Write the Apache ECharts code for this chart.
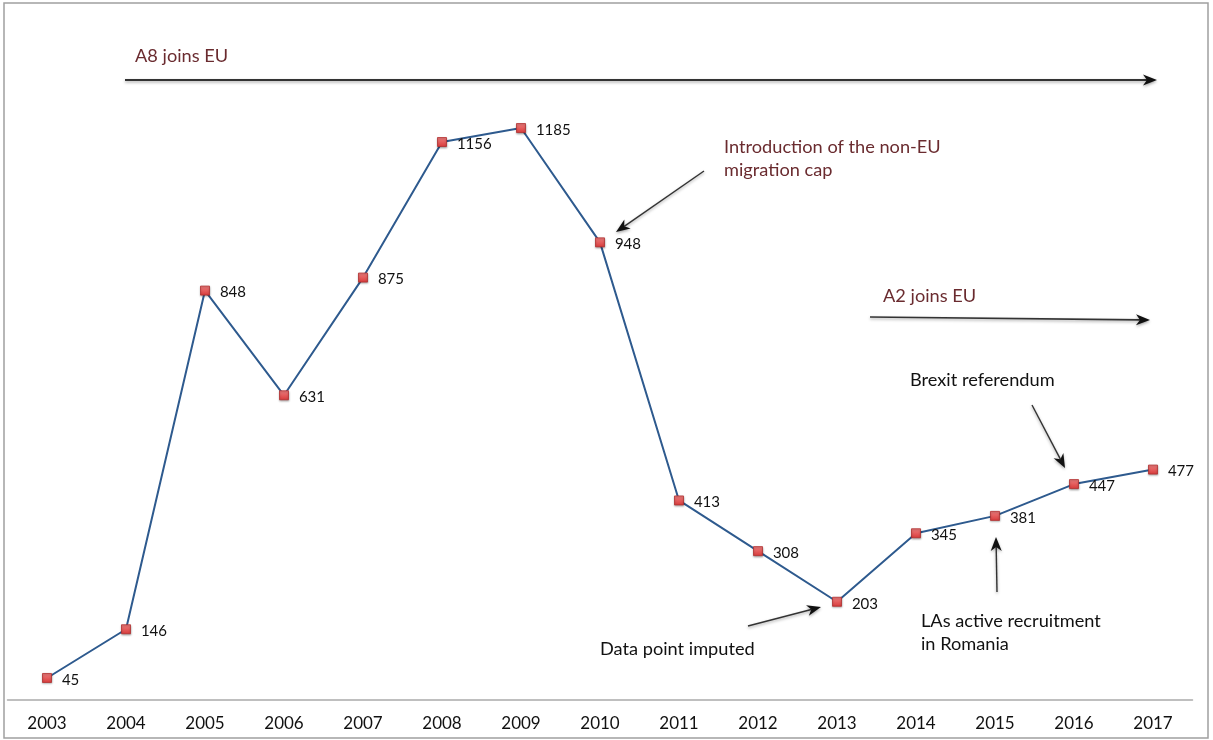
<!DOCTYPE html>
<html>
<head>
<meta charset="utf-8">
<script src="https://cdn.jsdelivr.net/npm/echarts@6/dist/echarts.min.js"></script>
<style>
html,body{margin:0;padding:0;background:#fff;}
#main{width:1213px;height:740px;}
</style>
</head>
<body>
<div id="main"></div>
<script>
var years = ['2003','2004','2005','2006','2007','2008','2009','2010','2011','2012','2013','2014','2015','2016','2017'];
var values = [45,146,848,631,875,1156,1185,948,413,308,203,345,381,447,477];

var annotationTexts = {
  a8: 'A8 joins EU',
  a2: 'A2 joins EU',
  cap: 'Introduction of the non-EU\nmigration cap',
  imputed: 'Data point imputed',
  brexit: 'Brexit referendum',
  las: 'LAs active recruitment\nin Romania'
};

var FONT = 'Lato, "Open Sans", sans-serif';
var MAROON = '#6a2b2f';

function arrow(x1, y1, x2, y2, w) {
  var dx = x2 - x1, dy = y2 - y1;
  var len = Math.sqrt(dx*dx + dy*dy);
  var ux = dx/len, uy = dy/len;
  var px = -uy, py = ux;
  var L = 14, H = 5.5, N = 10;
  var bx = x2 - ux*L, by = y2 - uy*L;
  var nx = x2 - ux*N, ny = y2 - uy*N;
  return [
    {type:'line', shape:{x1:x1,y1:y1,x2:nx,y2:ny},
     style:{stroke:'#333', lineWidth:w, shadowBlur:3, shadowColor:'rgba(0,0,0,0.35)', shadowOffsetY:1.5}},
    {type:'polygon', shape:{points:[[x2,y2],[bx+px*H,by+py*H],[nx,ny],[bx-px*H,by-py*H]]},
     style:{fill:'#111', shadowBlur:3, shadowColor:'rgba(0,0,0,0.35)', shadowOffsetY:1.5}}
  ];
}

function txt(x, y, s, color) {
  return {type:'text', left:x, top:y, style:{text:s, fill:color, font:'18.2px ' + FONT, lineHeight:23}};
}

var graphics = [
  {type:'rect', shape:{x:4,y:3,width:1204,height:735},
   style:{fill:'none', stroke:'#a0a0a0', lineWidth:1.5}, silent:true}
];
graphics = graphics.concat(arrow(125,80,1157,80,2.2));
graphics = graphics.concat(arrow(870,317,1150,320,1.6));
graphics = graphics.concat(arrow(704,171,616,232,1.4));
graphics = graphics.concat(arrow(748,626,821,607,1.4));
graphics = graphics.concat(arrow(997,592,996,537,1.4));
graphics = graphics.concat(arrow(1032,405,1065,468,1.4));
graphics.push(txt(135,45,annotationTexts.a8,MAROON));
graphics.push(txt(883,285,annotationTexts.a2,MAROON));
graphics.push(txt(724,136,annotationTexts.cap,MAROON));
graphics.push(txt(600,638,annotationTexts.imputed,'#111'));
graphics.push(txt(910,369,annotationTexts.brexit,'#111'));
graphics.push(txt(921,610,annotationTexts.las,'#111'));

var chart = echarts.init(document.getElementById('main'));
chart.setOption({
  animation:false,
  backgroundColor:'#fff',
  grid:{left:7.5, right:20.5, top:24.3, bottom:40.3, containLabel:false},
  xAxis:{
    type:'category', data:years, boundaryGap:true,
    axisLine:{lineStyle:{color:'#aaaaaa', width:1.5}},
    axisTick:{show:false},
    axisLabel:{color:'#111', fontSize:17, fontFamily:FONT, margin:15}
  },
  yAxis:{type:'value', min:0, max:1400, show:false, splitLine:{show:false}},
  series:[{
    type:'line', data:values,
    lineStyle:{color:'#2e5a8e', width:2},
    symbol:'rect', symbolSize:9,
    itemStyle:{
      color:new echarts.graphic.LinearGradient(0,0,0,1,[{offset:0,color:'#f08080'},{offset:1,color:'#d83a3a'}]),
      borderColor:'#b33030', borderWidth:0.8,
      shadowBlur:2, shadowColor:'rgba(0,0,0,0.3)', shadowOffsetY:1
    },
    label:{show:true, position:'right', distance:10, offset:[0,2], color:'#111', fontSize:15, fontFamily:FONT},
    z:3
  }],
  graphic:graphics
});
</script>
</body>
</html>
